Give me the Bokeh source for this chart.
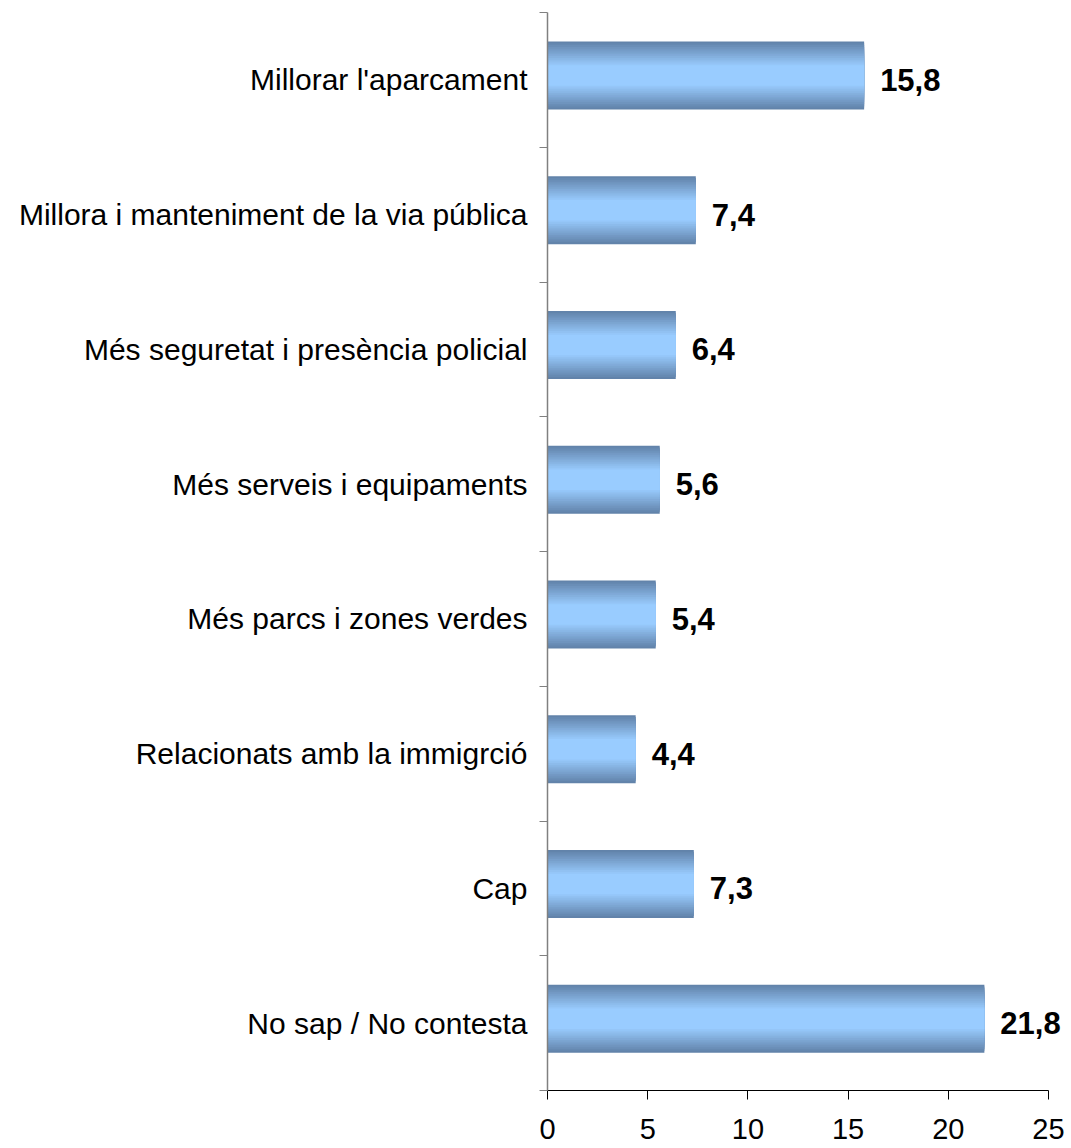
from bokeh.plotting import figure
from bokeh.models import ColumnDataSource, FixedTicker, Range1d
from bokeh.core.properties import value
from bokeh.transform import dodge
from bokeh.embed import file_html
from bokeh.resources import INLINE

categories = [
    "Millorar l'aparcament",
    "Millora i manteniment de la via pública",
    "Més seguretat i presència policial",
    "Més serveis i equipaments",
    "Més parcs i zones verdes",
    "Relacionats amb la immigrció",
    "Cap",
    "No sap / No contesta",
]
values = [15.8, 7.4, 6.4, 5.6, 5.4, 4.4, 7.3, 21.8]
x_ticks = [0, 5, 10, 15, 20, 25]

n = len(categories)
ypos = [n - 1 - i for i in range(n)]
labels = [f"{v:.1f}".replace(".", ",") for v in values]
src = ColumnDataSource(dict(y=ypos, v=values, cat=categories, lab=labels))

# frame spans a bit beyond 25 so that the value labels are not clipped;
# the axis itself is bounded to 0..25
x_end = 25 * 524 / 501

p = figure(width=1071, height=1148, output_backend="svg", toolbar_location=None,
           x_range=Range1d(0, x_end), y_range=Range1d(-0.5, n - 0.5),
           min_border_left=547, min_border_right=0, min_border_top=12, min_border_bottom=58)
p.outline_line_color = None
p.xgrid.grid_line_color = None
p.ygrid.grid_line_color = None
p.background_fill_color = "white"
p.border_fill_color = "white"

# gradient bars (nested bands, dark edges -> light centre)
bar_h = 0.505
steps = 14
dark = (0x62, 0x83, 0xAA)
light = (0x99, 0xCC, 0xFF)
for k in range(steps):
    t = k / (steps - 1)
    frac = 1 - 0.7 * t
    c = "#%02x%02x%02x" % tuple(round(d + (l - d) * t) for d, l in zip(dark, light))
    p.hbar(y=dodge("y", 0.033), left=0, right="v", height=bar_h * frac, source=src,
           fill_color=c, line_color=None)

p.text(x="v", y="y", text="lab", source=src, x_offset=16,
       text_align="left", text_baseline="middle",
       text_font=value("Liberation Sans"), text_font_style="bold",
       text_font_size="31px", text_color="black")

ya = p.yaxis[0]
ya.ticker = FixedTicker(ticks=ypos, minor_ticks=[i - 0.5 for i in range(n + 1)])
ya.major_label_overrides = {y: c for y, c in zip(ypos, categories)}
ya.major_tick_line_color = None
ya.major_tick_out = 0
ya.major_tick_in = 0
ya.minor_tick_out = 8
ya.minor_tick_in = 0
ya.minor_tick_line_color = "#808080"
ya.axis_line_color = "#808080"
ya.axis_line_width = 1.5
ya.major_label_standoff = 12
ya.major_label_text_font = "Liberation Sans"
ya.major_label_text_font_size = "30px"
ya.major_label_text_color = "black"

xa = p.xaxis[0]
xa.bounds = (0, 25)
xa.ticker = FixedTicker(ticks=x_ticks, minor_ticks=[])
xa.major_tick_out = 9
xa.major_tick_in = 0
xa.major_tick_line_color = "black"
xa.axis_line_color = "black"
xa.major_label_standoff = 19
xa.major_label_text_font = "Liberation Sans"
xa.major_label_text_font_size = "29px"
xa.major_label_text_color = "black"

open("out.html", "w").write(file_html(p, INLINE))
